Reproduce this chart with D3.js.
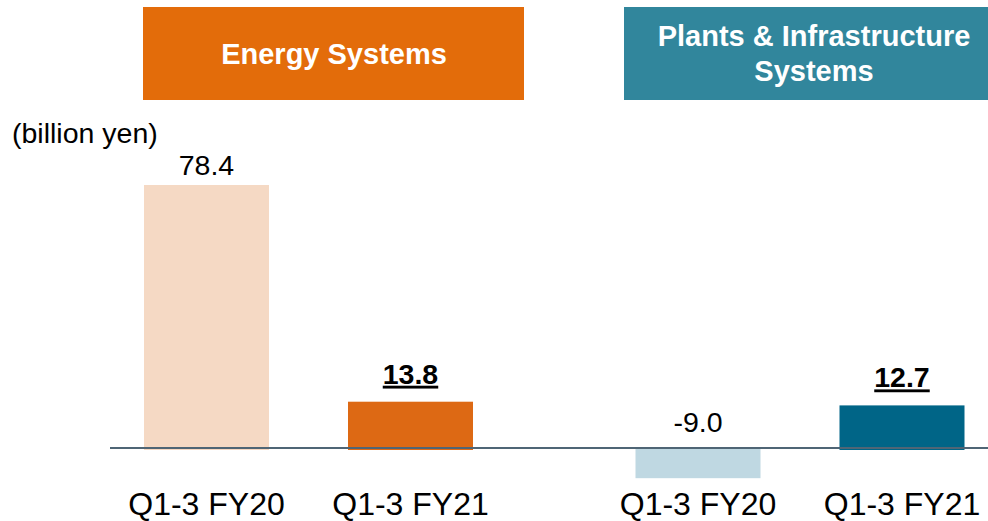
<!DOCTYPE html>
<html><head><meta charset="utf-8">
<script src="https://cdn.jsdelivr.net/npm/d3@7"></script>
<style>html,body{margin:0;padding:0;background:#fff;}svg{display:block;font-family:"Liberation Sans",Arial,sans-serif;}</style>
</head><body>
<svg id="c" width="988" height="521"></svg>
<script>
const groups = ["Energy Systems", "Plants & Infrastructure Systems"];
const headerLines = [["Energy Systems"], ["Plants & Infrastructure", "Systems"]];
const periods = ["Q1-3 FY20", "Q1-3 FY21"];
const energyValues = [78.4, 13.8];
const plantsValues = [-9.0, 12.7];
const unitLabel = "(billion yen)";

const barColors = [["#F5D9C4", "#DD6914"], ["#BFD8E2", "#006587"]];
const headerColors = ["#E36C0A", "#31869C"];

const svg = d3.select("#c");
const zeroY = 448;
const y = d3.scaleLinear().domain([0, 78.4]).range([zeroY, 185]);
const gx = d3.scalePoint().domain(groups).range([308.5, 800]);
const ix = d3.scalePoint().domain(periods).range([-102, 102]);
const barW = 125;

const data = [];
[energyValues, plantsValues].forEach((vals, gi) => {
  vals.forEach((v, pi) => data.push({g: groups[gi], p: periods[pi], v, gi, pi}));
});

// headers
const headers = [{x: 143, w: 381}, {x: 624, w: 364}];
headers.forEach((h, i) => {
  svg.append("rect").attr("x", h.x).attr("y", 7).attr("width", h.w).attr("height", 93).attr("fill", headerColors[i]);
});
svg.append("text").attr("x", 334).attr("y", 64).attr("text-anchor", "middle")
  .attr("fill", "#fff").attr("font-weight", "bold").attr("font-size", 29).text(headerLines[0][0]);
headerLines[1].forEach((t, k) => {
  svg.append("text").attr("x", 814).attr("y", 46 + k * 35).attr("text-anchor", "middle")
    .attr("fill", "#fff").attr("font-weight", "bold").attr("font-size", 29).text(t);
});

svg.append("text").attr("x", 12).attr("y", 143).attr("font-size", 28.5).attr("fill", "#000").text(unitLabel);

// bars
svg.selectAll("rect.bar").data(data).enter().append("rect").attr("class", "bar")
  .attr("x", d => gx(d.g) + ix(d.p) - barW / 2)
  .attr("y", d => d.v >= 0 ? y(d.v) : zeroY)
  .attr("width", barW)
  .attr("height", d => Math.abs(y(d.v) - y(0)) + (d.v >= 0 ? 2 : 0))
  .attr("fill", d => barColors[d.gi][d.pi]);

// zero line
svg.append("line").attr("x1", 110).attr("x2", 988).attr("y1", zeroY).attr("y2", zeroY)
  .attr("stroke", "#4F6575").attr("stroke-width", 2);

// value labels
data.forEach(d => {
  const bold = d.pi === 1;
  const cx = gx(d.g) + ix(d.p);
  const by = d.v >= 0 ? y(d.v) - (bold ? 18 : 10) : zeroY - 16;
  const t = svg.append("text").attr("x", cx).attr("y", by).attr("text-anchor", "middle")
    .attr("font-size", 28.5).attr("fill", "#000").text(d.v.toFixed(1));
  if (bold) t.attr("font-weight", "bold").attr("text-decoration", "underline");
});

// category labels
data.forEach(d => {
  svg.append("text").attr("x", gx(d.g) + ix(d.p)).attr("y", 515).attr("text-anchor", "middle")
    .attr("font-size", 32).attr("fill", "#000").text(d.p);
});
</script>
</body></html>
